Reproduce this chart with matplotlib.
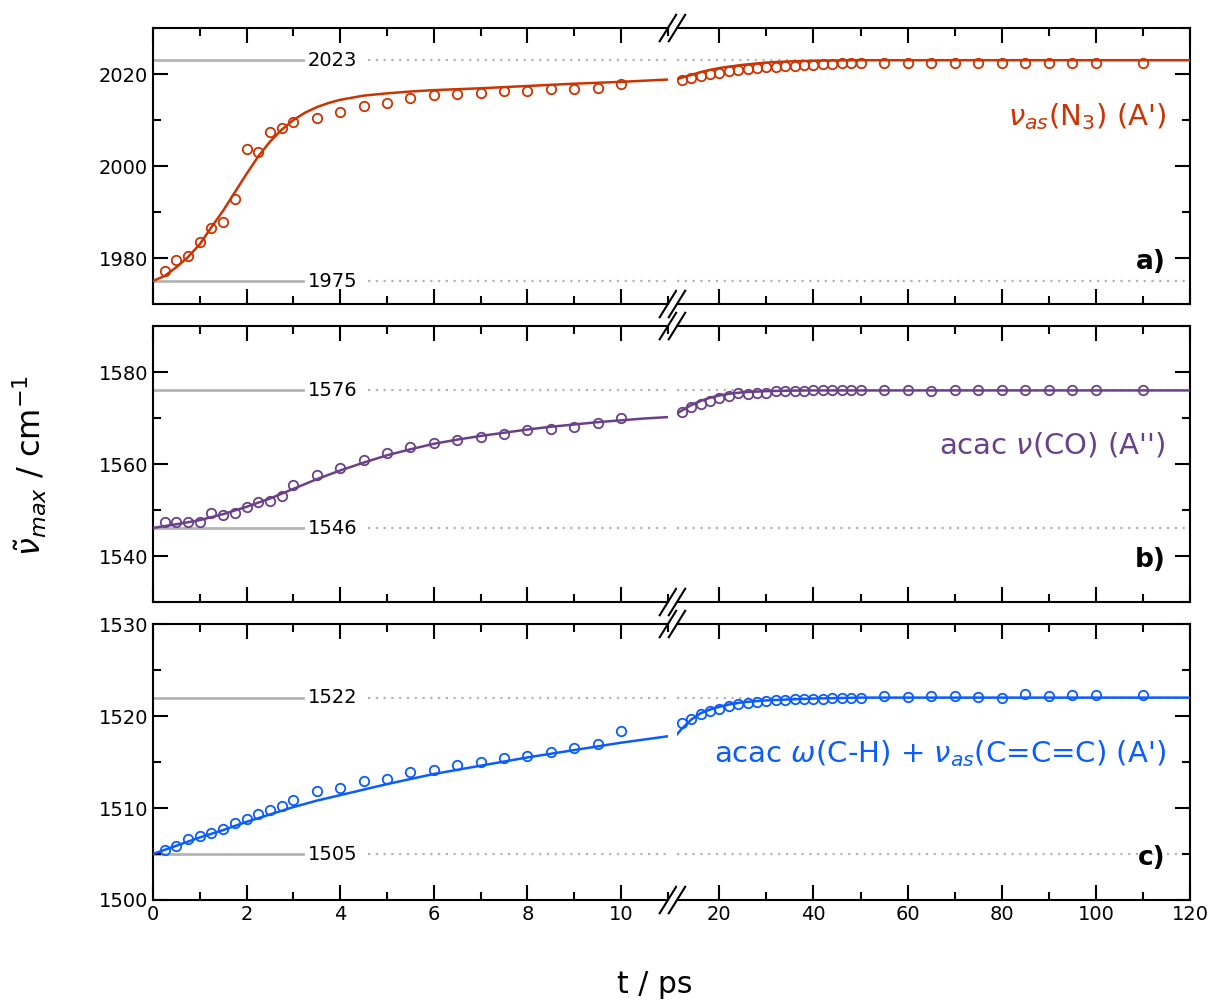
import matplotlib
matplotlib.use('Agg')
from matplotlib import pyplot as plt
from matplotlib.ticker import MultipleLocator

# time points (ps)
t_early = [0.25, 0.5, 0.75, 1.0, 1.25, 1.5, 1.75, 2.0, 2.25, 2.5, 2.75, 3.0,
           3.5, 4.0, 4.5, 5.0, 5.5, 6.0, 6.5, 7.0, 7.5, 8.0, 8.5, 9.0, 9.5, 10.0]
t_late = [12, 14, 16, 18, 20, 22, 24, 26, 28, 30, 32, 34, 36, 38, 40, 42, 44, 46, 48, 50,
          55, 60, 65, 70, 75, 80, 85, 90, 95, 100, 110]

# a) nu_as(N3)
n3_early = [1977.1, 1979.6, 1980.4, 1983.4, 1986.5, 1987.8, 1992.9, 2003.8, 2003.0, 2007.4,
            2008.3, 2009.6, 2010.5, 2011.7, 2013.0, 2013.6, 2014.7, 2015.5, 2015.7, 2015.8,
            2016.3, 2016.3, 2016.7, 2016.8, 2017.0, 2017.8]
n3_late = [2018.7, 2019.1, 2019.6, 2020.0, 2020.2, 2020.7, 2020.9, 2021.1, 2021.3, 2021.5,
           2021.5, 2021.7, 2021.7, 2022.0, 2022.0, 2022.2, 2022.2, 2022.4, 2022.4, 2022.4,
           2022.4, 2022.4, 2022.5, 2022.5, 2022.5, 2022.5, 2022.5, 2022.5, 2022.5, 2022.5, 2022.5]
n3_fit_t1 = [0, 0.25, 0.5, 0.75, 1.0, 1.25, 1.5, 1.75, 2.0, 2.25, 2.5, 2.75, 3.0, 3.25, 3.5,
             3.75, 4.0, 4.5, 5.0, 5.5, 6, 7, 8, 9, 10, 11]
n3_fit_v1 = [1975.0, 1976.1, 1978.0, 1980.2, 1983.0, 1986.7, 1990.3, 1994.3, 1998.3, 2002.1,
             2005.3, 2007.9, 2010.0, 2011.6, 2012.8, 2013.7, 2014.4, 2015.3, 2015.8, 2016.2,
             2016.5, 2016.9, 2017.4, 2017.9, 2018.3, 2018.8]
n3_fit_t2 = [11, 12, 13, 14, 16, 18, 20, 22, 25, 28, 30, 35, 40, 45, 50, 60, 80, 120]
n3_fit_v2 = [2018.9, 2019.2, 2019.5, 2019.8, 2020.4, 2020.9, 2021.3, 2021.6, 2022.0, 2022.3,
             2022.5, 2022.75, 2022.9, 2022.95, 2023.0, 2023.0, 2023.0, 2023.0]

# b) acac nu(CO)
co_early = [1547.5, 1547.5, 1547.3, 1547.4, 1549.3, 1548.9, 1549.4, 1550.6, 1551.7, 1552.0,
            1553.0, 1555.4, 1557.7, 1559.1, 1560.8, 1562.5, 1563.7, 1564.6, 1565.25, 1565.8,
            1566.55, 1567.4, 1567.7, 1568.1, 1569.0, 1569.9]
co_late = [1571.3, 1572.4, 1573.1, 1573.7, 1574.4, 1574.8, 1575.5, 1575.2, 1575.5, 1575.5,
           1575.9, 1575.9, 1575.9, 1575.9, 1576.1, 1576.1, 1576.1, 1576.1, 1576.1, 1576.1,
           1576.1, 1576.1, 1575.9, 1576.0, 1576.0, 1576.1, 1576.0, 1576.0, 1576.0, 1576.0, 1576.0]
co_fit_t1 = [0, 0.5, 1.0, 1.5, 2.0, 2.5, 3.0, 3.5, 4.0, 4.5, 5.0, 5.5, 6, 6.5, 7, 7.5, 8,
             8.5, 9, 9.5, 10, 10.5, 11]
co_fit_v1 = [1546.1, 1546.9, 1547.8, 1549.1, 1550.7, 1552.5, 1554.6, 1556.7, 1558.6, 1560.3,
             1561.9, 1563.2, 1564.4, 1565.3, 1566.1, 1566.8, 1567.5, 1568.1, 1568.6, 1569.1,
             1569.5, 1569.9, 1570.2]
co_fit_t2 = [11, 12, 13, 14, 16, 18, 20, 22, 25, 30, 35, 40, 120]
co_fit_v2 = [1571.0, 1571.6, 1572.2, 1572.8, 1573.7, 1574.4, 1574.9, 1575.25, 1575.6, 1575.85,
             1575.95, 1576.0, 1576.0]

# c) acac omega(C-H) + nu_as(C=C=C)
ch_early = [1505.45, 1505.9, 1506.65, 1507.0, 1507.3, 1507.7, 1508.4, 1508.8, 1509.4, 1509.8,
            1510.25, 1510.9, 1511.8, 1512.2, 1512.9, 1513.2, 1513.9, 1514.1, 1514.7, 1515.05,
            1515.4, 1515.7, 1516.1, 1516.5, 1517.0, 1518.4]
ch_late = [1519.2, 1519.7, 1520.2, 1520.5, 1520.8, 1521.1, 1521.3, 1521.4, 1521.5, 1521.6,
           1521.7, 1521.75, 1521.8, 1521.85, 1521.9, 1521.9, 1522.0, 1522.0, 1522.0, 1522.0,
           1522.2, 1522.1, 1522.2, 1522.2, 1522.1, 1522.0, 1522.4, 1522.2, 1522.3, 1522.3, 1522.3]
ch_fit_t1 = [0, 0.5, 1.0, 1.5, 2.0, 2.5, 3.0, 3.5, 4.0, 5.0, 6.0, 7.0, 8.0, 9.0, 10.0, 11.0]
ch_fit_v1 = [1505.0, 1505.9, 1506.8, 1507.6, 1508.5, 1509.3, 1510.1, 1510.8, 1511.4, 1512.6,
             1513.7, 1514.6, 1515.5, 1516.3, 1517.1, 1517.8]
ch_fit_t2 = [11, 12, 14, 16, 18, 20, 22, 25, 30, 40, 50, 120]
ch_fit_v2 = [1518.0, 1518.6, 1519.6, 1520.3, 1520.7, 1521.0, 1521.25, 1521.5, 1521.7, 1521.9,
             1522.0, 1522.0]

panels = [
    dict(early=n3_early, late=n3_late, fit=(n3_fit_t1, n3_fit_v1, n3_fit_t2, n3_fit_v2),
         color='#cc3300', ylim=(1970, 2030), major=20, minor=10, refs=(2023, 1975),
         label="$\\nu_{as}$(N$_3$) (A')", ly=0.678, tag='a)'),
    dict(early=co_early, late=co_late, fit=(co_fit_t1, co_fit_v1, co_fit_t2, co_fit_v2),
         color='#6a4089', ylim=(1530, 1590), major=20, minor=10, refs=(1576, 1546),
         label="acac $\\nu$(CO) (A'')", ly=0.569, tag='b)'),
    dict(early=ch_early, late=ch_late, fit=(ch_fit_t1, ch_fit_v1, ch_fit_t2, ch_fit_v2),
         color='#0a5cff', ylim=(1500, 1530), major=10, minor=5, refs=(1522, 1505),
         label="acac $\\omega$(C-H) + $\\nu_{as}$(C=C=C) (A')", ly=0.529, tag='c)'),
]

fig = plt.figure(figsize=(12.1, 10.01), dpi=100)
bottoms = [0.6963, 0.3986, 0.1009]
h = 0.2757
gray = '#b4b4b4'

for i, p in enumerate(panels):
    axl = fig.add_axes([0.1264, bottoms[i], 0.4256, h])
    axr = fig.add_axes([0.5595, bottoms[i], 0.4240, h])
    c = p['color']
    t1, v1, t2, v2 = p['fit']

    for r in p['refs']:
        axl.plot([0, 3.2], [r, r], color=gray, lw=2, zorder=1)
        axl.plot([4.6, 11], [r, r], color=gray, lw=1.6, ls=(0, (1, 2.5)), zorder=1)
        axr.plot([11, 120], [r, r], color=gray, lw=1.6, ls=(0, (1, 2.5)), zorder=1)
        axl.text(3.3, r, str(r), fontsize=14, va='center', ha='left')

    axl.plot(t1, v1, color=c, lw=1.8, zorder=3)
    axr.plot(t2, v2, color=c, lw=1.8, zorder=3)
    axl.plot(t_early, p['early'], 'o', mfc='none', mec=c, ms=6.8, mew=1.3, zorder=4)
    axr.plot(t_late, p['late'], 'o', mfc='none', mec=c, ms=6.8, mew=1.3, zorder=4)

    axl.set_xlim(0, 11)
    axr.set_xlim(11, 120)
    for ax in (axl, axr):
        ax.set_ylim(*p['ylim'])
        ax.yaxis.set_major_locator(MultipleLocator(p['major']))
        ax.yaxis.set_minor_locator(MultipleLocator(p['minor']))
        for s in ax.spines.values():
            s.set_linewidth(1.5)
        ax.tick_params(which='both', direction='in', top=True, width=1.5, labelsize=14)
        ax.tick_params(which='major', length=11)
        ax.tick_params(which='minor', length=6)
    axl.xaxis.set_major_locator(MultipleLocator(2))
    axl.xaxis.set_minor_locator(MultipleLocator(1))
    axr.xaxis.set_major_locator(MultipleLocator(20))
    axr.xaxis.set_minor_locator(MultipleLocator(10))
    axl.spines['right'].set_visible(False)
    axr.spines['left'].set_visible(False)
    axl.tick_params(which='both', right=False)
    axr.tick_params(which='both', left=False, right=True, labelleft=False)
    if i < 2:
        axl.tick_params(labelbottom=False)
        axr.tick_params(labelbottom=False)

    # break marks
    dx, dy = 0.016, 0.048
    kw = dict(color='k', lw=1.5, clip_on=False)
    for yy in (0, 1):
        axl.plot((1 - dx, 1 + dx), (yy - dy, yy + dy), transform=axl.transAxes, **kw)
        axr.plot((-dx, dx), (yy - dy, yy + dy), transform=axr.transAxes, **kw)

    axr.text(0.953, p['ly'], p['label'], color=c, fontsize=21, ha='right', va='center',
             transform=axr.transAxes)
    axr.text(0.953, 0.152, p['tag'], fontsize=19, fontweight='bold', ha='right', va='center',
             transform=axr.transAxes)

fig.text(0.025, 0.535, r'$\tilde{\nu}_{max}$ / cm$^{-1}$', rotation=90, fontsize=23,
         ha='center', va='center')
fig.text(0.541, 0.016, 't / ps', fontsize=21.5, ha='center', va='center')

fig.savefig('out.png', dpi=100)
